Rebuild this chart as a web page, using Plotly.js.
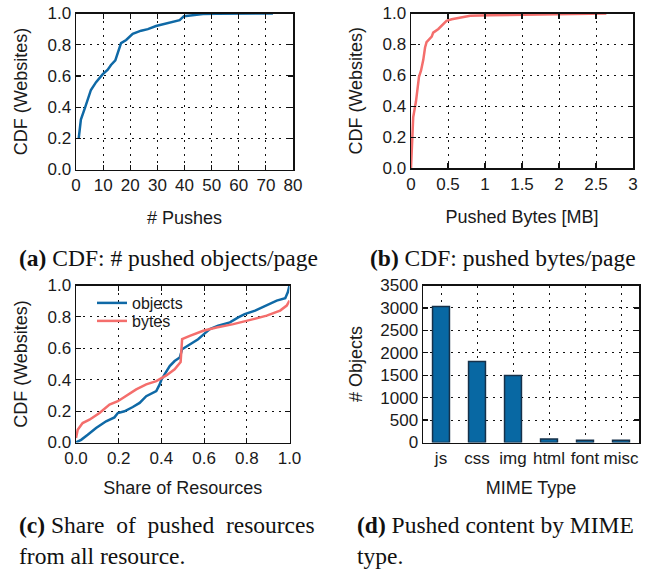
<!DOCTYPE html>
<html><head><meta charset="utf-8">
<script src="https://cdn.plot.ly/plotly-3.0.1.min.js"></script>
<style>html,body{margin:0;padding:0;background:#fff}#plot{width:646px;height:574px}</style>
</head><body><div id="plot"></div>
<script>
// (a) CDF of pushed objects per page
const pushesX = [1, 1.8, 3.4, 5.5, 7.4, 9.8, 11.7, 12.9, 14.5, 15.4, 16.6, 18.5, 20.9, 24, 26.5, 29.5, 33.2, 36.3, 38.2, 39.8, 43, 46.8, 51.7, 72.6];
const pushesCdf = [0.2, 0.32, 0.40, 0.51, 0.56, 0.61, 0.64, 0.67, 0.70, 0.745, 0.81, 0.83, 0.87, 0.89, 0.90, 0.92, 0.936, 0.947, 0.957, 0.983, 0.99, 0.996, 0.998, 1.0];
// (b) CDF of pushed bytes per page [MB]
const bytesX = [0, 0.013, 0.03, 0.067, 0.108, 0.135, 0.166, 0.19, 0.21, 0.28, 0.30, 0.37, 0.41, 0.48, 0.55, 0.71, 0.80, 1.07, 1.52, 1.97, 2.64];
const bytesCdf = [0, 0.196, 0.33, 0.43, 0.59, 0.63, 0.70, 0.78, 0.815, 0.85, 0.876, 0.90, 0.917, 0.952, 0.963, 0.978, 0.985, 0.989, 0.993, 0.996, 1.0];
// (c) share of pushed resources
const shareObjX = [0, 0.024, 0.055, 0.094, 0.141, 0.18, 0.196, 0.227, 0.266, 0.298, 0.329, 0.376, 0.392, 0.40, 0.415, 0.439, 0.462, 0.486, 0.497, 0.51, 0.54, 0.572, 0.599, 0.627, 0.666, 0.721, 0.76, 0.79, 0.839, 0.893, 0.94, 0.98, 0.992, 1.0];
const shareObjCdf = [0, 0.017, 0.049, 0.092, 0.135, 0.16, 0.188, 0.199, 0.226, 0.252, 0.295, 0.327, 0.37, 0.40, 0.434, 0.487, 0.519, 0.541, 0.594, 0.605, 0.626, 0.658, 0.69, 0.722, 0.744, 0.765, 0.797, 0.818, 0.84, 0.872, 0.904, 0.919, 0.957, 1.0];
const shareBytesX = [0, 0.008, 0.031, 0.063, 0.11, 0.157, 0.196, 0.235, 0.282, 0.329, 0.376, 0.423, 0.462, 0.49, 0.497, 0.533, 0.596, 0.658, 0.737, 0.831, 0.893, 0.956, 0.987, 1.0];
const shareBytesCdf = [0.028, 0.081, 0.124, 0.145, 0.188, 0.241, 0.263, 0.295, 0.338, 0.37, 0.391, 0.427, 0.466, 0.513, 0.658, 0.679, 0.712, 0.733, 0.754, 0.786, 0.808, 0.84, 0.872, 0.904];
// (d) pushed content by MIME type
const mimeTypes = ["js", "css", "img", "html", "font", "misc"];
const mimeCounts = [3030, 1805, 1495, 80, 50, 50];

const BLUE = "#0f69a6", RED = "#f46e6c";
const tickFont = {family: "Liberation Sans, Arial, sans-serif", size: 17, color: "#1a1a1a"};
const legFont = {family: "Liberation Sans, Arial, sans-serif", size: 16, color: "#1a1a1a"};
const titleFont = {family: "Liberation Sans, Arial, sans-serif", size: 18, color: "#1a1a1a"};
const capFont = {family: "Liberation Serif, Times New Roman, serif", size: 23.5, color: "#111"};

function ax(extra) {
  return Object.assign({
    showline: true, linecolor: "#111", linewidth: 1.5, mirror: "allticks",
    ticks: "inside", ticklen: 5, tickwidth: 1.2, tickcolor: "#111",
    showgrid: true, gridcolor: "#111", gridwidth: 1, griddash: "2px,5px",
    zeroline: false, tickfont: tickFont, fixedrange: true
  }, extra);
}

const traces = [
  {x: pushesX, y: pushesCdf, type: "scatter", mode: "lines", line: {color: BLUE, width: 2.5}, xaxis: "x", yaxis: "y", showlegend: false},
  {x: bytesX, y: bytesCdf, type: "scatter", mode: "lines", line: {color: RED, width: 2.5}, xaxis: "x2", yaxis: "y2", showlegend: false},
  {x: shareObjX, y: shareObjCdf, type: "scatter", mode: "lines", name: "objects", line: {color: BLUE, width: 2.5}, xaxis: "x3", yaxis: "y3", legend: "legend"},
  {x: shareBytesX, y: shareBytesCdf, type: "scatter", mode: "lines", name: "bytes", line: {color: RED, width: 2.5}, xaxis: "x3", yaxis: "y3", legend: "legend2"},
  {x: mimeTypes, y: mimeCounts, type: "bar", marker: {color: "#0868a3", line: {color: "#16314a", width: 1.5}}, xaxis: "x4", yaxis: "y4", showlegend: false, width: 0.47}
];

const W = 646, H = 574;
const dx = (a, b) => [a / W, b / W];
const dy = (top, bot) => [1 - bot / H, 1 - top / H];

const legBase = {xanchor: "left", yanchor: "middle", bgcolor: "rgba(0,0,0,0)", font: legFont, itemwidth: 30, borderwidth: 0};

const layout = {
  width: W, height: H, margin: {l: 0, r: 0, t: 0, b: 0},
  paper_bgcolor: "#fff", plot_bgcolor: "#fff",
  xaxis: ax({domain: dx(76, 293), anchor: "y", range: [0, 80], dtick: 10, tick0: 0,
    title: {text: "# Pushes", font: titleFont, standoff: 17}}),
  yaxis: ax({domain: dy(13.5, 169.5), anchor: "x", range: [0, 1], dtick: 0.2, tickformat: ".1f",
    title: {text: "CDF (Websites)", font: titleFont, standoff: 15}}),
  xaxis2: ax({domain: dx(411, 633), anchor: "y2", range: [0, 3], dtick: 0.5, tick0: 0,
    title: {text: "Pushed Bytes [MB]", font: titleFont, standoff: 17}}),
  yaxis2: ax({domain: dy(13.5, 168), anchor: "x2", range: [0, 1], dtick: 0.2, tickformat: ".1f",
    title: {text: "CDF (Websites)", font: titleFont, standoff: 15}}),
  xaxis3: ax({domain: dx(76, 289.5), anchor: "y3", range: [0, 1], dtick: 0.2, tickformat: ".1f",
    title: {text: "Share of Resources", font: titleFont, standoff: 14}}),
  yaxis3: ax({domain: dy(285.5, 442.5), anchor: "x3", range: [0, 1], dtick: 0.2, tickformat: ".1f",
    title: {text: "CDF (Websites)", font: titleFont, standoff: 15}}),
  xaxis4: ax({domain: dx(423, 639), anchor: "y4", ticks: "", range: [-0.5, 5.5],
    title: {text: "MIME Type", font: titleFont, standoff: 14}}),
  yaxis4: ax({domain: dy(285.5, 442.5), anchor: "x4", range: [0, 3500], dtick: 500,
    title: {text: "# Objects", font: titleFont, standoff: 13}}),
  legend: Object.assign({x: 92 / W, y: 1 - 303 / H}, legBase),
  legend2: Object.assign({x: 92 / W, y: 1 - 321 / H}, legBase),
  annotations: [
    {text: "<b>(a)</b> CDF: # pushed objects/page", x: 17 / W, y: 1 - 258 / H, xref: "paper", yref: "paper", xanchor: "left", yanchor: "middle", showarrow: false, font: capFont},
    {text: "<b>(b)</b> CDF: pushed bytes/page", x: 368 / W, y: 1 - 258 / H, xref: "paper", yref: "paper", xanchor: "left", yanchor: "middle", showarrow: false, font: capFont},
    {text: "<b>(c)</b> Share  of  pushed  resources<br>from all resource.", x: 17 / W, y: 1 - 540 / H, xref: "paper", yref: "paper", xanchor: "left", yanchor: "middle", align: "left", showarrow: false, font: capFont},
    {text: "<b>(d)</b> Pushed content by MIME<br>type.", x: 355 / W, y: 1 - 540 / H, xref: "paper", yref: "paper", xanchor: "left", yanchor: "middle", align: "left", showarrow: false, font: capFont}
  ],
  bargap: 0.53
};

Plotly.newPlot("plot", traces, layout, {displayModeBar: false, staticPlot: true});
</script></body></html>
